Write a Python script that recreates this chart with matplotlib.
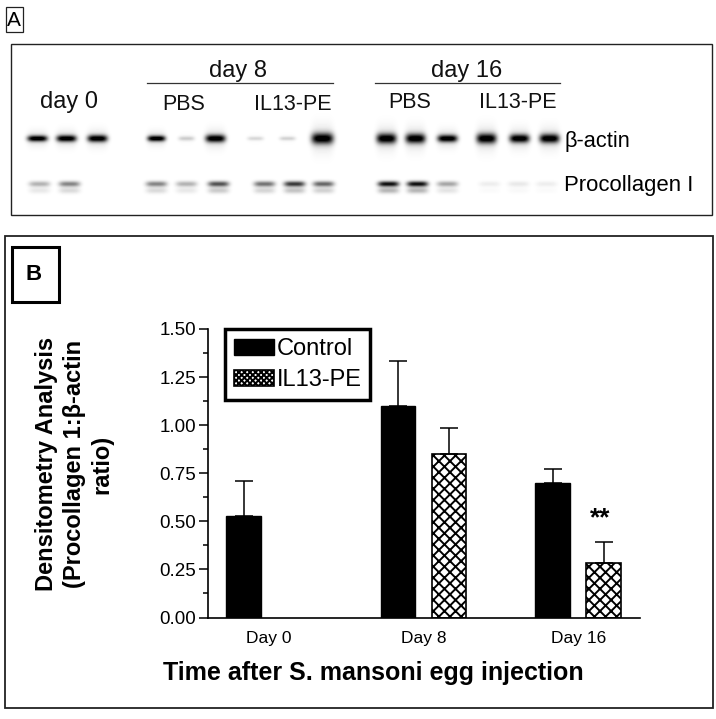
import numpy as np
import matplotlib
matplotlib.use("Agg")
from matplotlib import pyplot as plt
from matplotlib.patches import Rectangle

plt.rcParams["font.family"] = ["Liberation Sans", "DejaVu Sans"]
plt.rcParams["hatch.linewidth"] = 1.4

# panel B values
categories = ["Day 0", "Day 8", "Day 16"]
control = [0.53, 1.10, 0.70]
control_err = [0.18, 0.235, 0.07]
il13 = [0, 0.85, 0.285]
il13_err = [0, 0.135, 0.105]
yticks = [0, 0.25, 0.5, 0.75, 1.0, 1.25, 1.5]

# panel A band strength per lane, 0 = nothing, 1 = black
actin_x = [37, 66, 97, 156, 186, 215, 255, 287, 322, 386, 415, 447, 486, 519, 549]
actin_w = [10, 10, 10, 9, 8, 10, 8, 8, 11, 10, 10, 10, 10, 10, 10]
actin_h = [3.0, 3.3, 3.5, 2.9, 2.2, 3.8, 2.0, 2.0, 5.5, 5.0, 4.8, 3.6, 5.0, 4.2, 4.5]
actin_val = [1, 1, 1, 1, 0.18, 1, 0.14, 0.16, 1, 1, 1, 1, 1, 1, 1]
pro_x = [39, 69, 97, 156, 186, 218, 264, 294, 323, 388, 417, 447, 489, 518, 546]
pro_val = [0.3, 0.48, 0, 0.48, 0.3, 0.68, 0.55, 0.78, 0.6, 0.95, 0.95, 0.35, 0.07, 0.09, 0.07]

W, H = 716, 719
fig = plt.figure(figsize=(W / 100, H / 100), dpi=100)


def px_axes(x0, y0, x1, y1):
    return fig.add_axes([x0 / W, 1 - y1 / H, (x1 - x0) / W, (y1 - y0) / H])


# whole page in pixel units for the frames and labels
page = fig.add_axes([0, 0, 1, 1])
page.set_xlim(0, W)
page.set_ylim(H, 0)
page.axis("off")

# blot bands
xx, yy = np.meshgrid(np.arange(W), np.arange(H))
dark = np.zeros((H, W))


def band(cx, cy, w, h, val):
    return val * np.exp(-(((xx - cx) / w) ** 4) - (((yy - cy) / h) ** 2))


for x, w, h, v in zip(actin_x, actin_w, actin_h, actin_val):
    dark += band(x, 138, w, h, v)
    dark += band(x, 138, w, h * 2.5, v * 0.12)
for x, v in zip(pro_x, pro_val):
    dark += band(x, 183.5, 10.5, 2.8, v)
    dark += band(x, 190, 10.5, 3, v * 0.3)
page.imshow(1 - np.clip(dark, 0, 1), cmap="gray", vmin=0, vmax=1,
            extent=(0, W, H, 0), aspect="auto", zorder=0)
page.set_xlim(0, W)
page.set_ylim(H, 0)

# frames
page.add_patch(Rectangle((11, 44), 701, 171, fill=False, ec="#222222", lw=1.0))
page.add_patch(Rectangle((5.5, 7), 17.5, 25, fill=False, ec="#222222", lw=0.9))
page.add_patch(Rectangle((5, 236), 708, 472, fill=False, ec="#222222", lw=1.3))
page.add_patch(Rectangle((11.5, 247), 47, 55, fill=False, ec="black", lw=2.2))
page.plot([147, 333], [83, 83], color="#333333", lw=0.9)
page.plot([375, 560], [83, 83], color="#333333", lw=0.9)

page.text(14, 20, "A", fontsize=15, ha="center", va="center")
page.text(34, 274, "B", fontsize=16, fontweight="bold", ha="center", va="center")

for s, x, y in [("day 8", 238, 71), ("day 16", 467, 71), ("day 0", 69, 102)]:
    page.text(x, y, s, fontsize=17, ha="center", va="center", color="#111111")
for s, x, y in [("PBS", 184, 104), ("IL13-PE", 293, 104), ("PBS", 410, 103),
                ("IL13-PE", 518, 103)]:
    page.text(x, y, s, fontsize=15.5, ha="center", va="center", color="#111111")
page.text(565, 141, "β-actin", fontsize=15.7, ha="left", va="center")
page.text(564, 185, "Procollagen I", fontsize=15.9, ha="left", va="center")

# bar chart
ax = px_axes(208, 329, 640, 617.5)
ax.patch.set_alpha(0)
x = np.arange(len(categories))
offset = 0.165
width = 0.223
err_style = dict(ecolor="black", elinewidth=1.1, capsize=6.5, capthick=1.1)
b1 = ax.bar(x - offset, control, width, color="black", edgecolor="black",
            yerr=[np.zeros(3), control_err], error_kw=err_style, label="Control")
b2 = ax.bar(x[1:] + offset, il13[1:], width, color="white", edgecolor="black",
            hatch="xxx", linewidth=1.2, yerr=[np.zeros(2), il13_err[1:]],
            error_kw=err_style, label="IL13-PE")

ax.set_xlim(-0.395, 2.40)
ax.set_ylim(0, 1.5)
ax.set_yticks(yticks)
ax.set_yticklabels(["0.00", "0.25", "0.50", "0.75", "1.00", "1.25", "1.50"], fontsize=13.5)
ax.set_yticks(np.array(yticks[:-1]) + 0.125, minor=True)
ax.set_xticks(x)
ax.set_xticklabels(categories, fontsize=12.5)
ax.tick_params(axis="y", which="major", length=6.5, width=1.1, pad=2)
ax.tick_params(axis="y", which="minor", length=3.5, width=1.1)
ax.tick_params(axis="x", length=0, pad=10)
for side in ["top", "right"]:
    ax.spines[side].set_visible(False)
for side in ["left", "bottom"]:
    ax.spines[side].set_linewidth(1.2)

ax.text(x[2] + offset - 0.02, 0.515, "**", fontsize=19, fontweight="bold", ha="center", va="center")

leg = ax.legend(handles=[b1, b2], loc="upper left", bbox_to_anchor=(225 / W, 1 - 329 / H),
                bbox_transform=fig.transFigure, fontsize=17, fancybox=False, framealpha=1,
                edgecolor="black", borderaxespad=0, handlelength=1.7, handleheight=0.68,
                handletextpad=0.1, labelspacing=0.38, borderpad=0.38)
leg.get_frame().set_linewidth(2.5)
leg.legend_handles[1].set_hatch("xxxxxx")

page.text(373, 673, "Time after S. mansoni egg injection", fontsize=18, fontweight="bold",
          ha="center", va="center")
page.text(74, 464, "Densitometry Analysis\n(Procollagen 1:β-actin\nratio)", fontsize=17,
          fontweight="bold", rotation=90, ha="center", va="center", ma="center", linespacing=1.25)

fig.savefig("out.png", dpi=100)
